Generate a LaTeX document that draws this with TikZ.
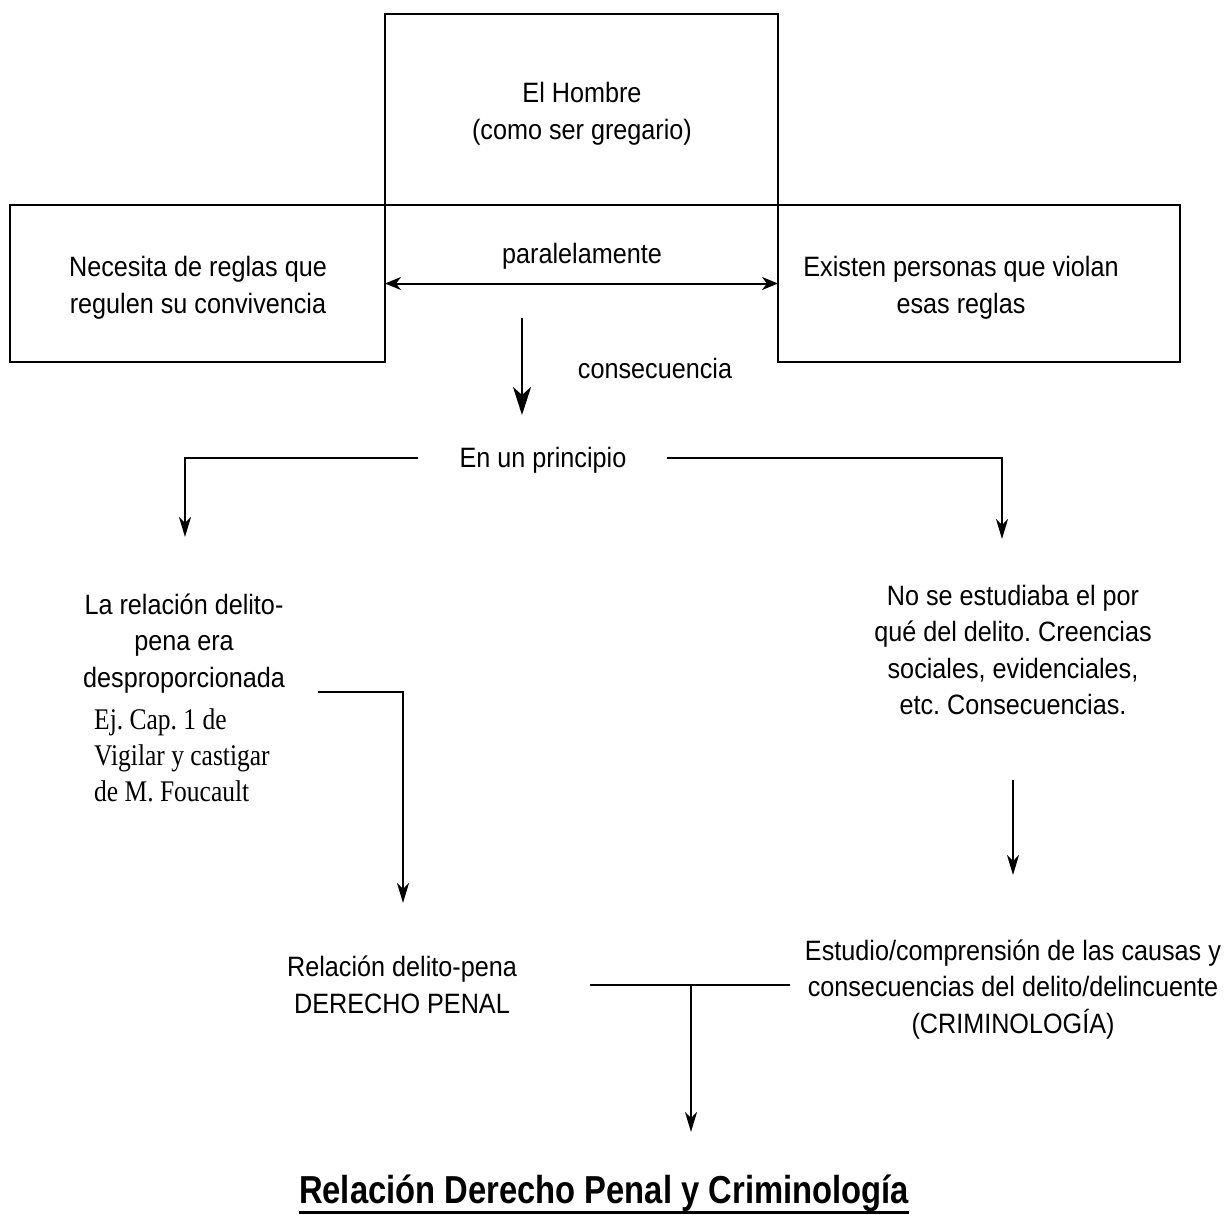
\documentclass[tikz,border=0pt]{standalone}
\usepackage{fontspec}
\setmainfont{Liberation Sans}[FakeStretch=0.9]
\newfontfamily\serifcond{Liberation Serif}[FakeStretch=0.85]
\newfontfamily\titlefont{Liberation Sans}[FakeStretch=0.84]
\usetikzlibrary{arrows.meta}
\frenchspacing
\begin{document}
\begin{tikzpicture}[x=1pt,y=-1pt,
  txt/.style={inner sep=0pt, align=center, font=\fontsize{28}{36.5}\selectfont},
  sertxt/.style={inner sep=0pt, align=left, font=\serifcond\fontsize{30}{36}\selectfont},
  boxshape/.style={draw, line width=2.6pt, inner sep=0pt, outer sep=0pt},
  conn/.style={line width=2pt},
  arr/.style={line width=1.6pt, -{Stealth[length=20pt,width=12pt,inset=6pt]}},
  dblarr/.style={line width=2pt, {Stealth[length=16pt,width=13pt,inset=5pt]}-{Stealth[length=16pt,width=13pt,inset=5pt]}},
  bigarr/.style={line width=2.6pt, -{Stealth[length=28pt,width=18pt,inset=8pt]}}]
\useasboundingbox (0,0) rectangle (1226,1215);

% boxes
\node[boxshape, minimum width=393pt, minimum height=191pt] (hombrebox) at (581.5,109.5) {};
\node[boxshape, minimum width=375pt, minimum height=157pt] (lbox) at (197.5,283.5) {};
\node[boxshape, minimum width=402pt, minimum height=157pt] (rbox) at (979,283.5) {};

% texts
\node[txt] (hombre) at (582,114) {El Hombre\\(como ser gregario)};
\node[txt] (necesita) at (198,288) {Necesita de reglas que\\regulen su convivencia};
\node[txt] (existen) at (961,288) {Existen personas que violan\\esas reglas};
\node[txt, anchor=base] (paral) at (582,263) {paralelamente};
\node[txt, anchor=base] (consec) at (655,378) {consecuencia};
\node[txt, anchor=base] (principio) at (543,467) {En un principio};
\node[txt] (lrel) at (184,643.5) {La relación delito-\\pena era\\desproporcionada};
\node[sertxt, anchor=west] (fouc) at (94,755.5) {Ej. Cap. 1 de\\Vigilar y castigar\\de M. Foucault};
\node[txt] (noest) at (1013,650) {No se estudiaba el por\\qué del delito. Creencias\\sociales, evidenciales,\\etc. Consecuencias.};
\node[txt] (dpenal) at (402,985) {Relación delito-pena\\DERECHO PENAL};
\node[txt] (crim) at (1013,989.5) {Estudio/comprensión de las causas y\\consecuencias del delito/delincuente\\(CRIMINOLOGÍA)};
\node[anchor=base, inner sep=0pt, font=\titlefont\bfseries\fontsize{39}{44}\selectfont] (title) at (604,1203) {Relación Derecho Penal y Criminología};
\draw[line width=3pt] ([yshift=-9pt]title.base west) -- ([yshift=-9pt]title.base east);

% connector coordinates
\coordinate (t1) at (522,318);
\coordinate (t2) at (522,415);
\coordinate (bl1) at (418,458);
\coordinate (bl2) at (185,537);
\coordinate (br1) at (667,458);
\coordinate (br2) at (1002,539);
\coordinate (el1) at (318,692);
\coordinate (el2) at (403,903);
\coordinate (ra1) at (1013,780);
\coordinate (ra2) at (1013,875);
\coordinate (j1) at (590,985);
\coordinate (j2) at (790,985);
\coordinate (jm) at (691,985);
\coordinate (jend) at (691,1132);

% connectors
\draw[dblarr] (lbox.east) -- (rbox.west);
\draw[bigarr] (t1) -- (t2);
\draw[arr] (bl1) -| (bl2);
\draw[arr] (br1) -| (br2);
\draw[arr] (el1) -| (el2);
\draw[arr] (ra1) -- (ra2);
\draw[conn, line width=2.6pt] (j1) -- (j2);
\draw[arr] (jm) -- (jend);
\end{tikzpicture}
\end{document}
